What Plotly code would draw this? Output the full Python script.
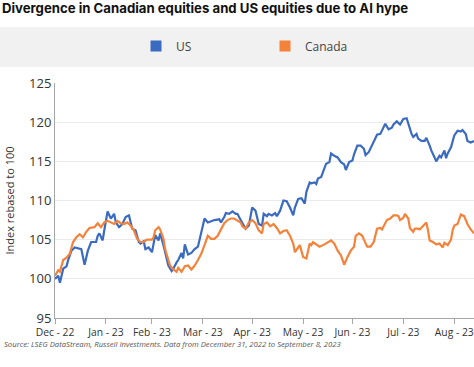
import plotly.graph_objects as go

# ---- data ----
us_dates = [
    "2022-12-31", "2023-01-02", "2023-01-03", "2023-01-05", "2023-01-07", "2023-01-08", "2023-01-10",
    "2023-01-12", "2023-01-16", "2023-01-18", "2023-01-20", "2023-01-22", "2023-01-25", "2023-01-26",
    "2023-01-27", "2023-01-29", "2023-01-30", "2023-02-01", "2023-02-03", "2023-02-05", "2023-02-06",
    "2023-02-08", "2023-02-10", "2023-02-12", "2023-02-14", "2023-02-16", "2023-02-18", "2023-02-20",
    "2023-02-21", "2023-02-23", "2023-02-24", "2023-02-26", "2023-02-28", "2023-03-02", "2023-03-04",
    "2023-03-05", "2023-03-07", "2023-03-08", "2023-03-10", "2023-03-12", "2023-03-13", "2023-03-15",
    "2023-03-16", "2023-03-18", "2023-03-19", "2023-03-20", "2023-03-22", "2023-03-24", "2023-03-26",
    "2023-03-28", "2023-03-30", "2023-03-31", "2023-04-01", "2023-04-03", "2023-04-05", "2023-04-07",
    "2023-04-10", "2023-04-11", "2023-04-13", "2023-04-14", "2023-04-16", "2023-04-18", "2023-04-20",
    "2023-04-21", "2023-04-23", "2023-04-24", "2023-04-26", "2023-04-28", "2023-04-30", "2023-05-02",
    "2023-05-04", "2023-05-06", "2023-05-07", "2023-05-09", "2023-05-10", "2023-05-12", "2023-05-14",
    "2023-05-15", "2023-05-17", "2023-05-19", "2023-05-21", "2023-05-23", "2023-05-25", "2023-05-26",
    "2023-05-28", "2023-05-30", "2023-06-01", "2023-06-02", "2023-06-04", "2023-06-05", "2023-06-07",
    "2023-06-08", "2023-06-09", "2023-06-11", "2023-06-13", "2023-06-14", "2023-06-16", "2023-06-17",
    "2023-06-19", "2023-06-21", "2023-06-23", "2023-06-25", "2023-06-26", "2023-06-28", "2023-06-30",
    "2023-07-01", "2023-07-03", "2023-07-05", "2023-07-07", "2023-07-08", "2023-07-10", "2023-07-11",
    "2023-07-13", "2023-07-15", "2023-07-17", "2023-07-19", "2023-07-20", "2023-07-22", "2023-07-24",
    "2023-07-25", "2023-07-27", "2023-07-29", "2023-07-31", "2023-08-02", "2023-08-03", "2023-08-05",
    "2023-08-06", "2023-08-08", "2023-08-09", "2023-08-11", "2023-08-13", "2023-08-14", "2023-08-16",
    "2023-08-17", "2023-08-19", "2023-08-20", "2023-08-22", "2023-08-23", "2023-08-25", "2023-08-26",
    "2023-08-27", "2023-08-29", "2023-08-31", "2023-09-02", "2023-09-04", "2023-09-05", "2023-09-07",
    "2023-09-08", "2023-09-10", "2023-09-12",
]
us_values = [
    100.0, 100.4, 99.5, 101.3, 101.6, 102.4, 103.6,
    104.0, 103.8, 101.8, 103.6, 104.7, 104.7, 105.5,
    105.8, 104.9, 106.2, 108.6, 107.7, 108.3, 107.2,
    106.6, 107.0, 107.9, 108.1, 106.4, 106.2, 104.7,
    104.5, 104.8, 103.8, 104.0, 103.4, 105.6, 104.9,
    105.8, 104.3, 103.4, 101.7, 101.0, 101.3, 102.1,
    102.4, 103.3, 102.6, 104.4, 103.1, 103.3, 103.8,
    104.1, 105.8, 106.6, 107.7, 107.2, 107.4, 107.5,
    107.6, 107.2, 107.9, 108.4, 108.3, 108.6, 108.3,
    108.3, 107.5, 107.1, 106.4, 106.8, 109.1, 108.7,
    107.0, 106.8, 108.3, 108.0, 108.3, 108.1, 108.4,
    108.0, 108.7, 110.0, 109.9, 109.1, 108.1, 109.1,
    110.2, 110.3, 109.6, 111.1, 112.3, 112.2, 112.3,
    112.1, 112.8, 113.0, 114.0, 114.7, 114.9, 116.0,
    115.7, 115.5, 114.9, 114.6, 113.9, 114.9, 115.1,
    115.9, 117.0, 117.0, 116.6, 115.8, 116.2, 116.6,
    117.4, 118.4, 118.5, 119.3, 119.8, 119.1, 119.3,
    119.7, 120.1, 119.7, 120.4, 120.5, 119.8, 118.5,
    118.1, 118.5, 117.9, 117.6, 117.6, 118.0, 117.0,
    116.4, 115.5, 115.0, 115.7, 115.5, 116.4, 115.4,
    116.0, 116.8, 118.3, 118.9, 118.8, 119.0, 118.5,
    117.6, 117.4, 117.6,
]

ca_dates = [
    "2022-12-31", "2023-01-02", "2023-01-03", "2023-01-05", "2023-01-07", "2023-01-09", "2023-01-11",
    "2023-01-13", "2023-01-15", "2023-01-17", "2023-01-19", "2023-01-21", "2023-01-24", "2023-01-26",
    "2023-01-28", "2023-01-30", "2023-02-01", "2023-02-03", "2023-02-05", "2023-02-07", "2023-02-09",
    "2023-02-11", "2023-02-13", "2023-02-15", "2023-02-17", "2023-02-19", "2023-02-21", "2023-02-23",
    "2023-02-25", "2023-02-28", "2023-03-01", "2023-03-02", "2023-03-04", "2023-03-05", "2023-03-07",
    "2023-03-08", "2023-03-10", "2023-03-11", "2023-03-13", "2023-03-15", "2023-03-16", "2023-03-18",
    "2023-03-20", "2023-03-22", "2023-03-24", "2023-03-26", "2023-03-28", "2023-03-30", "2023-04-01",
    "2023-04-03", "2023-04-05", "2023-04-07", "2023-04-09", "2023-04-11", "2023-04-13", "2023-04-15",
    "2023-04-17", "2023-04-19", "2023-04-21", "2023-04-23", "2023-04-24", "2023-04-26", "2023-04-28",
    "2023-04-30", "2023-05-02", "2023-05-04", "2023-05-06", "2023-05-07", "2023-05-09", "2023-05-11",
    "2023-05-13", "2023-05-15", "2023-05-17", "2023-05-19", "2023-05-21", "2023-05-23", "2023-05-25",
    "2023-05-26", "2023-05-28", "2023-05-29", "2023-05-31", "2023-06-02", "2023-06-04", "2023-06-05",
    "2023-06-06", "2023-06-08", "2023-06-10", "2023-06-13", "2023-06-15", "2023-06-17", "2023-06-19",
    "2023-06-21", "2023-06-23", "2023-06-25", "2023-06-27", "2023-06-29", "2023-07-01", "2023-07-02",
    "2023-07-04", "2023-07-06", "2023-07-07", "2023-07-09", "2023-07-11", "2023-07-13", "2023-07-15",
    "2023-07-17", "2023-07-18", "2023-07-20", "2023-07-21", "2023-07-23", "2023-07-25", "2023-07-27",
    "2023-07-28", "2023-07-29", "2023-07-31", "2023-08-01", "2023-08-03", "2023-08-04", "2023-08-06",
    "2023-08-07", "2023-08-09", "2023-08-10", "2023-08-12", "2023-08-14", "2023-08-15", "2023-08-16",
    "2023-08-18", "2023-08-20", "2023-08-22", "2023-08-24", "2023-08-25", "2023-08-27", "2023-08-29",
    "2023-08-30", "2023-08-31", "2023-09-02", "2023-09-04", "2023-09-06", "2023-09-08", "2023-09-10",
    "2023-09-12",
]
ca_values = [
    100.4, 101.1, 100.9, 102.4, 102.7, 103.2, 104.7,
    105.3, 105.7, 105.3, 106.0, 106.5, 106.6, 107.1,
    106.6, 107.2, 107.4, 107.2, 107.0, 107.4, 107.1,
    107.0, 107.2, 106.8, 106.2, 105.1, 104.7, 104.7,
    105.0, 105.0, 105.3, 106.2, 106.6, 106.3, 105.1,
    103.8, 102.4, 101.7, 101.2, 100.9, 101.4, 100.9,
    101.6, 101.7, 101.2, 101.7, 102.4, 103.2, 104.3,
    105.5, 105.1, 105.1, 105.5, 106.4, 107.1, 107.5,
    107.7, 107.7, 107.5, 107.2, 106.7, 106.4, 107.2,
    107.5, 107.1, 106.2, 105.8, 107.0, 107.2, 106.7,
    107.0, 106.5, 105.8, 106.1, 106.2, 105.5, 104.5,
    103.4, 104.0, 104.3, 102.8, 102.6, 104.5, 104.3,
    104.7, 104.4, 104.1, 104.4, 104.7, 104.9, 104.5,
    103.6, 103.0, 101.8, 102.8, 103.6, 104.1, 105.5,
    105.8, 105.5, 105.0, 104.1, 104.1, 104.7, 106.4,
    106.5, 106.3, 107.0, 107.5, 107.7, 108.1, 108.1,
    108.0, 107.5, 107.8, 108.3, 107.7, 106.5, 106.0,
    106.4, 106.4, 106.3, 106.8, 107.2, 106.2, 104.9,
    104.7, 104.4, 104.5, 104.0, 104.6, 104.3, 105.0,
    106.2, 106.8, 107.0, 108.2, 108.0, 107.0, 106.3,
    105.8,
]

tick_dates = ["2022-12-31", "2023-01-31", "2023-02-28", "2023-03-31", "2023-04-30",
              "2023-05-31", "2023-06-30", "2023-07-31", "2023-08-31"]
tick_labels = ["Dec - 22", "Jan - 23", "Feb - 23", "Mar - 23", "Apr - 23",
               "May - 23", "Jun - 23", "Jul - 23", "Aug - 23"]
y_ticks = [95, 100, 105, 110, 115, 120, 125]

series_names = ["US", "Canada"]
series_colors = ["#3a6bc0", "#f5823a"]

title_text = "Divergence in Canadian equities and US equities due to AI hype"
source_text = ("Source: LSEG DataStream, Russell Investments. "
               "Data from December 31, 2022 to September 8, 2023")

# ---- figure ----
W, H = 474, 367
ML, MR, MT, MB = 55, 0, 83, 49
plot_h = H - MT - MB
plot_w = W - ML - MR

fig = go.Figure()
for name, xs, ys, col in [(series_names[0], us_dates, us_values, series_colors[0]),
                          (series_names[1], ca_dates, ca_values, series_colors[1])]:
    fig.add_trace(go.Scatter(x=xs, y=ys, mode="lines", name=name,
                             line=dict(color=col, width=2.2), showlegend=False,
                             hoverinfo="x+y"))
# legend entries with square swatches
for name, col in zip(series_names, series_colors):
    fig.add_trace(go.Scatter(x=[None], y=[None], mode="markers", name=name,
                             marker=dict(symbol="square", size=11, color=col)))


def py(px):  # pixel row -> paper y
    return (H - MB - px) / plot_h


def px_(x):  # pixel column -> paper x
    return (x - ML) / plot_w


fig.add_shape(type="rect", xref="paper", yref="paper",
              x0=px_(0), x1=px_(W), y0=py(67), y1=py(27),
              fillcolor="#f1f1f1", line=dict(width=0), layer="below")

fig.update_layout(
    width=W, height=H,
    margin=dict(l=ML, r=MR, t=MT, b=MB, autoexpand=False),
    paper_bgcolor="white", plot_bgcolor="white",
    title=dict(text="<b>" + title_text + "</b>", x=0.004, xanchor="left",
               xref="container", yref="container", y=1 - 8.5 / H, yanchor="middle",
               font=dict(family="Inter", size=13.2, color="#111111")),
    legend=dict(orientation="h", x=px_(136), xanchor="left", y=py(46), yanchor="middle",
                bgcolor="rgba(0,0,0,0)", font=dict(family="Open Sans", size=12, color="#444444"),
                entrywidth=84, entrywidthmode="pixels", itemclick=False),
    xaxis=dict(type="date", range=["2022-12-31", "2023-09-12"], automargin=False,
               tickvals=tick_dates, ticktext=tick_labels,
               showgrid=False, showline=True, linecolor="#a6a6a6", linewidth=1,
               ticks="outside", ticklen=5, tickcolor="#a6a6a6",
               tickfont=dict(family="Open Sans", size=10.3, color="#333333"),
               zeroline=False),
    yaxis=dict(range=[95, 125], tickvals=y_ticks, automargin=False,
               showgrid=True, gridcolor="#ebebeb", gridwidth=1,
               showline=True, linecolor="#a6a6a6", linewidth=1,
               ticks="", tickfont=dict(family="Open Sans", size=13, color="#333333"),
               title=dict(text="Index rebased to 100",
                          font=dict(family="Open Sans", size=11, color="#333333"),
                          standoff=12),
               zeroline=False),
    annotations=[dict(text="<i>" + source_text + "</i>", xref="paper", yref="paper",
                      x=px_(2), y=py(344), xanchor="left", yanchor="middle",
                      showarrow=False,
                      font=dict(family="Open Sans", size=7.7, color="#555555"))],
)

fig.write_html("out.html", config={"displayModeBar": False},
               post_script="document.body.style.margin='0px';document.body.style.overflow='hidden';")
